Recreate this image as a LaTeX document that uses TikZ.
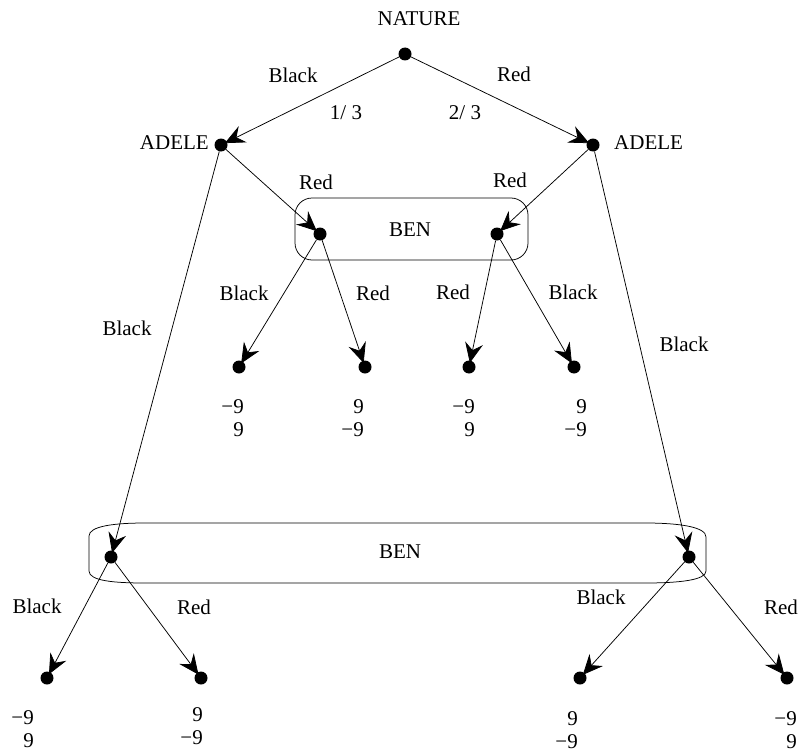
\documentclass[tikz,border=0pt]{standalone}
\usepackage{fontspec}
\setmainfont{Liberation Serif}
\usetikzlibrary{arrows.meta}
\begin{document}
\begin{tikzpicture}[x=1pt,y=-1pt,
  dot/.style={circle,fill=black,inner sep=0pt,minimum size=13pt},
  lbl/.style={inner sep=0pt,font=\fontsize{21}{24}\selectfont},
  pay/.style={inner sep=0pt,align=right,anchor=east,font=\fontsize{21}{22.5}\selectfont},
  mv/.style={draw=black,line width=0.75pt,-{Stealth[length=20pt,width=18pt,inset=7pt]},shorten >=-2.5pt},
  infoset/.style={draw=black,line width=0.75pt}]
\useasboundingbox (0,0) rectangle (798,752);
% information sets
\draw[infoset,rounded corners=17pt] (295,198) rectangle (528,260);
\draw[infoset] (89,536) .. controls (89,526) and (115,523) .. (145,523) -- (645,523)
  .. controls (680,523) and (706,527) .. (706,537) -- (706,571)
  .. controls (706,580) and (680,583) .. (645,583) -- (145,583)
  .. controls (115,583) and (89,581) .. (89,571) -- cycle;
% decision nodes
\node[dot] (nat) at (405,54) {};
\node[dot] (al) at (221,145) {};
\node[dot] (ar) at (593,145) {};
\node[dot] (b1) at (320,234) {};
\node[dot] (b2) at (497,234) {};
\node[dot] (c1) at (111,557) {};
\node[dot] (c2) at (689,557) {};
% terminal nodes
\node[dot] (t1) at (239,367) {};
\node[dot] (t2) at (365,367) {};
\node[dot] (t3) at (469,367) {};
\node[dot] (t4) at (574,367) {};
\node[dot] (t5) at (47,678) {};
\node[dot] (t6) at (201,678) {};
\node[dot] (t7) at (580,678) {};
\node[dot] (t8) at (787,678) {};
% player labels
\node[lbl] (lnat) at (419,19) {NATURE};
\node[lbl,anchor=east] (lal) at (209,143) {ADELE};
\node[lbl,anchor=west] (lar) at (614,143) {ADELE};
\node[lbl] (lb1) at (410,230) {BEN};
\node[lbl] (lb2) at (400,552) {BEN};
% moves
\draw[mv] (nat) -- (al);
\draw[mv] (nat) -- (ar);
\draw[mv] (al) -- (b1);
\draw[mv] (ar) -- (b2);
\draw[mv] (b1) -- (t1);
\draw[mv] (b1) -- (t2);
\draw[mv] (b2) -- (t3);
\draw[mv] (b2) -- (t4);
\draw[mv] (al) -- (c1);
\draw[mv] (ar) -- (c2);
\draw[mv] (c1) -- (t5);
\draw[mv] (c1) -- (t6);
\draw[mv] (c2) -- (t7);
\draw[mv] (c2) -- (t8);
% move labels
\node[lbl] (m1) at (293,75) {Black};
\node[lbl] (m2) at (514,74) {Red};
\node[lbl] (p1) at (346,113) {1/ 3};
\node[lbl] (p2) at (465,113) {2/ 3};
\node[lbl] (m3) at (316,182) {Red};
\node[lbl] (m4) at (510,180) {Red};
\node[lbl] (m5) at (244,293) {Black};
\node[lbl] (m6) at (373,293) {Red};
\node[lbl] (m7) at (453,292) {Red};
\node[lbl] (m8) at (573,292) {Black};
\node[lbl] (m9) at (127,328) {Black};
\node[lbl] (m10) at (684,344) {Black};
\node[lbl] (m11) at (37,606) {Black};
\node[lbl] (m12) at (194,607) {Red};
\node[lbl] (m13) at (601,597) {Black};
\node[lbl] (m14) at (781,607) {Red};
% payoffs
\node[pay] (u1) at (244,418) {−9\\9};
\node[pay] (u2) at (364,418) {9\\−9};
\node[pay] (u3) at (475,418) {−9\\9};
\node[pay] (u4) at (587,418) {9\\−9};
\node[pay] (u5) at (34,729) {−9\\9};
\node[pay] (u6) at (203,726) {9\\−9};
\node[pay] (u7) at (578,730) {9\\−9};
\node[pay] (u8) at (797,730) {−9\\9};
\end{tikzpicture}
\end{document}
